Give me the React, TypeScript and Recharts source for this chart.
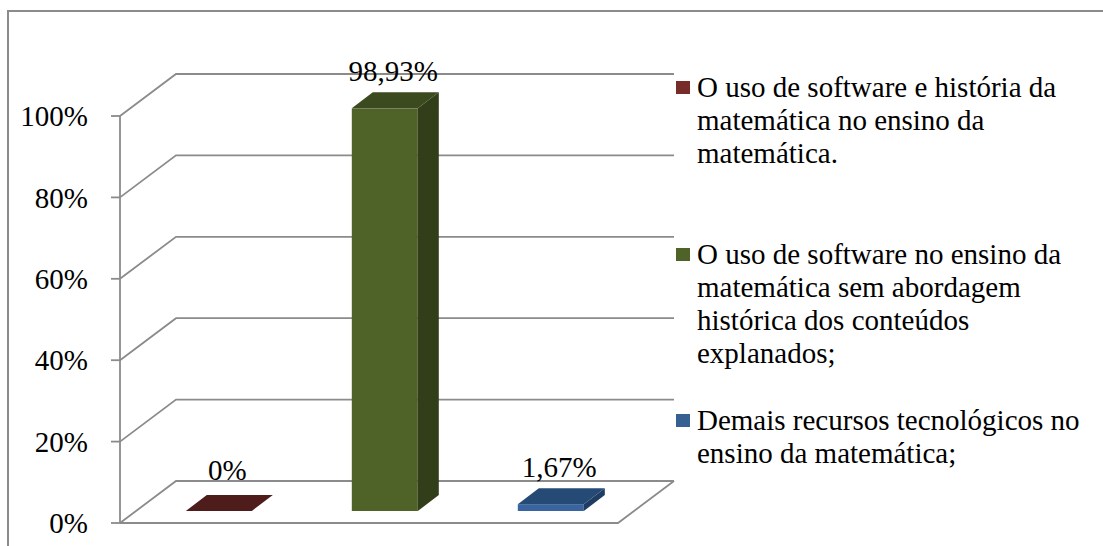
import React from 'react';
import { BarChart, Bar, XAxis, YAxis, CartesianGrid, Legend } from 'recharts';

// ---- data ----
const categories = [
  'O uso de software e história da matemática no ensino da matemática.',
  'O uso de software no ensino da matemática sem abordagem histórica dos conteúdos explanados;',
  'Demais recursos tecnológicos no ensino da matemática;',
];
const values = [0, 98.93, 1.67];
const valueLabels = ['0%', '98,93%', '1,67%'];
const yTicks = [0, 20, 40, 60, 80, 100];
const yTickLabels = ['0%', '20%', '40%', '60%', '80%', '100%'];

// ---- styles ----
const frontColors = ['#772c2a', '#4f6228', '#3a64a0'];
const topColors = ['#4d1c1b', '#3c4a1f', '#264a76'];
const sideColors = ['#3e1616', '#323e19', '#1f3d62'];
const legendColors = ['#772c2a', '#4f6228', '#376092'];
const GRID = '#8b8b8b';
const FONT = "'Liberation Serif', 'Times New Roman', serif";
const FS = 29;

// perspective offsets
const BACK_X = 56;
const BACK_Y = 42;
const FACE_X = 16;
const FACE_Y = 12;
const DEPTH_X = 21;
const DEPTH_Y = 16;

const data = categories.map((name, i) => ({ name, value: values[i], label: valueLabels[i] }));

const Box3D = (props: any) => {
  const { x, y, width, height, index } = props;
  const h = Math.max(height || 0, 0);
  const fx = x + FACE_X;
  const fy = y - FACE_Y;
  const side = `${fx + width},${fy} ${fx + width + DEPTH_X},${fy - DEPTH_Y} ${fx + width + DEPTH_X},${fy + h - DEPTH_Y} ${fx + width},${fy + h}`;
  const top = `${fx},${fy} ${fx + DEPTH_X},${fy - DEPTH_Y} ${fx + width + DEPTH_X},${fy - DEPTH_Y} ${fx + width},${fy}`;
  return (
    <g>
      {h > 0 && <rect x={fx} y={fy} width={width} height={h} fill={frontColors[index]} />}
      {h > 0 && <polygon points={side} fill={sideColors[index]} />}
      <polygon points={top} fill={topColors[index]} />
      <text
        x={fx + width / 2 + DEPTH_X / 2 - 2}
        y={fy - DEPTH_Y - (h > 0 ? 11 : 15)}
        textAnchor="middle"
        fontFamily={FONT}
        fontSize={FS}
        fill="#000"
      >
        {valueLabels[index]}
      </text>
    </g>
  );
};

const renderGridLine = (p: any) => {
  const { x1, x2, y1 } = p;
  const bottom = (p.y ?? 0) + (p.height ?? 0);
  const isFloor = Math.abs(y1 - bottom) < 1;
  const by = y1 - BACK_Y;
  return (
    <g key={p.key ?? `g-${y1}`}>
      <polyline
        points={`${x1},${y1} ${x1 + BACK_X},${by} ${x2 + BACK_X},${by}`}
        fill="none"
        stroke={GRID}
        strokeWidth={1.8}
      />
      {isFloor && (
        <polyline
          points={`${x1},${y1} ${x2},${y1} ${x2 + BACK_X},${by}`}
          fill="none"
          stroke={GRID}
          strokeWidth={1.8}
        />
      )}
    </g>
  );
};

const renderLegend = () => (
  <div style={{ fontFamily: FONT, fontSize: FS, lineHeight: '33px', color: '#000' }}>
    {categories.map((c, i) => (
      <div key={i} style={{ position: 'relative', height: 166.5, paddingLeft: 21 }}>
        <span
          style={{
            position: 'absolute',
            left: 0,
            top: 10,
            width: 14,
            height: 13,
            background: legendColors[i],
          }}
        />
        <div style={{ width: 400 }}>{c}</div>
      </div>
    ))}
  </div>
);

export default function App() {
  return (
    <div style={{ position: 'absolute', left: 0, top: 0, width: 1103, height: 546, overflow: 'hidden', background: '#fff' }}>
      <div
        style={{
          position: 'absolute',
          left: 7,
          top: 10,
          width: 1096,
          height: 536,
          borderTop: `2px solid ${GRID}`,
          borderLeft: `2px solid ${GRID}`,
          boxSizing: 'border-box',
        }}
      />
      <div style={{ position: 'absolute', left: 0, top: 0 }}>
        <BarChart
          width={1103}
          height={546}
          data={data}
          margin={{ top: 116, right: 485, bottom: 23, left: 0 }}
          barCategoryGap="30%"
        >
          <CartesianGrid vertical={false} horizontal={renderGridLine} />
          <XAxis dataKey="name" hide />
          <YAxis
            width={120}
            domain={[0, 100]}
            ticks={yTicks}
            tickFormatter={(v: number) => yTickLabels[yTicks.indexOf(v)]}
            tickSize={9}
            tickMargin={23}
            axisLine={{ stroke: GRID, strokeWidth: 1.8 }}
            tickLine={{ stroke: GRID, strokeWidth: 1.8 }}
            tick={{ fill: '#000', fontFamily: FONT, fontSize: FS }}
            interval={0}
          />
          <Bar dataKey="value" shape={<Box3D />} isAnimationActive={false} />
          <Legend
            layout="vertical"
            align="center"
            verticalAlign="middle"
            content={renderLegend}
            wrapperStyle={{ left: 676, top: 71, width: 427 }}
          />
        </BarChart>
      </div>
    </div>
  );
}
